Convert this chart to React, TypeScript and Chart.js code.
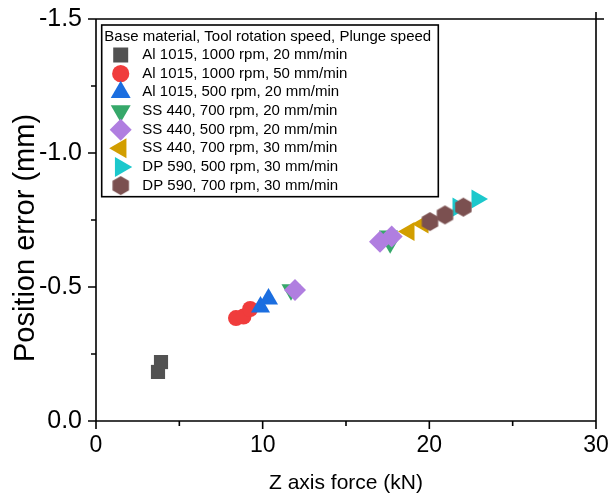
import React, { useEffect, useRef } from 'react';
import { Chart, registerables } from 'chart.js';
import { drawPoint } from 'chart.js/helpers';

Chart.register(...registerables);

const FONT = "'Liberation Sans', Arial, sans-serif";

const legendTitle = 'Base material, Tool rotation speed, Plunge speed';
const seriesLabels = [
  'Al 1015, 1000 rpm, 20 mm/min',
  'Al 1015, 1000 rpm, 50 mm/min',
  'Al 1015, 500 rpm, 20 mm/min',
  'SS 440, 700 rpm, 20 mm/min',
  'SS 440, 500 rpm, 20 mm/min',
  'SS 440, 700 rpm, 30 mm/min',
  'DP 590, 500 rpm, 30 mm/min',
  'DP 590, 700 rpm, 30 mm/min',
];

// Z axis force (kN)
const xAl1000_20 = [3.72, 3.9];
const xAl1000_50 = [8.4, 8.85, 9.25];
const xAl500_20 = [9.87, 10.35];
const xSS700_20 = [11.7, 17.55, 17.65];
const xSS500_20 = [11.94, 17.04, 17.74];
const xSS700_30 = [18.78, 19.62];
const xDP500_30 = [21.72, 22.86];
const xDP700_30 = [20.04, 20.94, 22.04];

// Position error (mm)
const yAl1000_20 = [-0.183, -0.22];
const yAl1000_50 = [-0.384, -0.39, -0.418];
const yAl500_20 = [-0.425, -0.455];
const ySS700_20 = [-0.49, -0.69, -0.665];
const ySS500_20 = [-0.489, -0.669, -0.688];
const ySS700_30 = [-0.707, -0.735];
const yDP500_30 = [-0.798, -0.828];
const yDP700_30 = [-0.744, -0.769, -0.798];

const xValues = [xAl1000_20, xAl1000_50, xAl500_20, xSS700_20, xSS500_20, xSS700_30, xDP500_30, xDP700_30];
const yValues = [yAl1000_20, yAl1000_50, yAl500_20, ySS700_20, ySS500_20, ySS700_30, yDP500_30, yDP700_30];

const colors = ['#525252', '#f03c3c', '#1b6ee0', '#36a86a', '#b07ee0', '#d29e00', '#1cc8cc', '#7b5050'];
const styles = ['rect', 'circle', 'triangle', 'triangle', 'rectRot', 'triangle', 'triangle', 'hex'];
const rotations = [0, 0, 0, 180, 0, 270, 90, 0];
const radii = [10, 8, 11, 11, 11, 11, 11, 9.5];
const legendRadii = [10.6, 8.6, 11.5, 11.5, 11, 11.5, 11.5, 9.5];

const xMajorTicks = [0, 10, 20, 30];
const xMinorTicks = [5, 15, 25];
const yMajorTicks = [0, -0.5, -1.0, -1.5];
const yMinorTicks = [-0.25, -0.75, -1.25];

const xTitle = 'Z axis force (kN)';
const yTitle = 'Position error (mm)';

function makeHexagon(R: number, color: string) {
  const c = document.createElement('canvas');
  const w = Math.ceil(Math.sqrt(3) * R) + 2;
  const h = Math.ceil(2 * R) + 2;
  c.width = w;
  c.height = h;
  const g = c.getContext('2d')!;
  g.fillStyle = color;
  g.beginPath();
  for (let i = 0; i < 6; i++) {
    const a = (Math.PI / 3) * i - Math.PI / 2;
    const px = w / 2 + R * Math.cos(a);
    const py = h / 2 + R * Math.sin(a);
    if (i === 0) g.moveTo(px, py);
    else g.lineTo(px, py);
  }
  g.closePath();
  g.fill();
  return c;
}

function zeroPadding(s: any) {
  s.paddingLeft = 0;
  s.paddingRight = 0;
  s.paddingTop = 0;
  s.paddingBottom = 0;
}

export default function App() {
  const ref = useRef<HTMLCanvasElement | null>(null);

  useEffect(() => {
    if (!ref.current) return;
    const hex = makeHexagon(radii[7], colors[7]);
    const pStyles: any[] = styles.map((s) => (s === 'hex' ? hex : s));

    const datasets = seriesLabels.map((label, i) => ({
      label,
      data: xValues[i].map((x, j) => ({ x, y: yValues[i][j] })),
      pointStyle: pStyles[i],
      rotation: rotations[i],
      pointRadius: radii[i],
      pointHoverRadius: radii[i],
      backgroundColor: colors[i],
      borderColor: colors[i],
      borderWidth: 0,
      showLine: false,
      order: -i,
    }));

    const framePlugin = {
      id: 'frameAndLegend',
      afterDraw(chart: any) {
        const { ctx, chartArea: a, scales } = chart;
        const xs = scales.x;
        const ys = scales.y;
        ctx.save();
        ctx.strokeStyle = '#000';
        ctx.lineWidth = 1.6;
        ctx.beginPath();
        ctx.moveTo(a.left, a.top);
        ctx.lineTo(a.right + 8, a.top);
        ctx.moveTo(a.right, a.top - 7);
        ctx.lineTo(a.right, a.bottom);
        ctx.moveTo(a.left, a.top);
        ctx.lineTo(a.left, a.bottom);
        ctx.lineTo(a.right, a.bottom);
        xMajorTicks.forEach((v) => {
          const px = xs.getPixelForValue(v);
          ctx.moveTo(px, a.bottom);
          ctx.lineTo(px, a.bottom + 8);
        });
        xMinorTicks.forEach((v) => {
          const px = xs.getPixelForValue(v);
          ctx.moveTo(px, a.bottom);
          ctx.lineTo(px, a.bottom + 5);
        });
        yMajorTicks.forEach((v) => {
          const py = ys.getPixelForValue(v);
          ctx.moveTo(a.left, py);
          ctx.lineTo(a.left - 8, py);
        });
        yMinorTicks.forEach((v) => {
          const py = ys.getPixelForValue(v);
          ctx.moveTo(a.left, py);
          ctx.lineTo(a.left - 5, py);
        });
        ctx.stroke();

        // y axis title
        ctx.save();
        ctx.translate(25.5, 238);
        ctx.rotate(-Math.PI / 2);
        ctx.fillStyle = '#000';
        ctx.font = `29px ${FONT}`;
        ctx.textAlign = 'center';
        ctx.textBaseline = 'middle';
        ctx.fillText(yTitle, 0, 0);
        ctx.restore();

        // legend
        const bx = 101.7, by = 25, bw = 336.6, bh = 171.7;
        ctx.fillStyle = '#fff';
        ctx.fillRect(bx, by, bw, bh);
        ctx.lineWidth = 1.6;
        ctx.strokeRect(bx, by, bw, bh);
        ctx.fillStyle = '#000';
        ctx.font = `15px ${FONT}`;
        ctx.textAlign = 'left';
        ctx.textBaseline = 'middle';
        ctx.fillText(legendTitle, 104.3, 37);
        seriesLabels.forEach((lab, i) => {
          const cy = 55 + i * 18.66;
          ctx.fillStyle = colors[i];
          ctx.strokeStyle = colors[i];
          drawPoint(ctx, { pointStyle: pStyles[i], rotation: rotations[i], radius: legendRadii[i], borderWidth: 0 } as any, 120.7, cy);
          ctx.fillStyle = '#000';
          ctx.fillText(lab, 142.3, cy);
        });
        ctx.restore();
      },
    };

    const chart = new Chart(ref.current, {
      type: 'scatter',
      data: { datasets: datasets as any },
      options: {
        animation: false,
        responsive: false,
        maintainAspectRatio: false,
        layout: { padding: { top: 19, right: 14, left: 0, bottom: 0 } },
        plugins: { legend: { display: false }, tooltip: { enabled: false } },
        scales: {
          x: {
            type: 'linear',
            min: 0,
            max: 30,
            grid: { display: false },
            border: { display: false },
            ticks: {
              stepSize: 10,
              color: '#000',
              padding: 3,
              font: { family: FONT, size: 23 },
            },
            title: {
              display: true,
              text: xTitle,
              color: '#000',
              font: { family: FONT, size: 21, lineHeight: 1 },
              padding: { top: 0, bottom: 3.5 },
            },
            afterFit: (s: any) => {
              s.height = 76;
              zeroPadding(s);
            },
          },
          y: {
            type: 'linear',
            min: -1.5,
            max: 0,
            reverse: true,
            grid: { display: false },
            border: { display: false },
            ticks: {
              stepSize: 0.5,
              color: '#000',
              padding: 6,
              font: { family: FONT, size: 25 },
              callback: (v: any) => Number(v).toFixed(1),
            },
            afterFit: (s: any) => {
              s.width = 96;
              zeroPadding(s);
            },
          },
        },
      },
      plugins: [framePlugin],
    });
    return () => chart.destroy();
  }, []);

  return (
    <div style={{ position: 'fixed', left: 0, top: 0, width: 610, height: 497 }}>
      <canvas ref={ref} width={610} height={497} style={{ display: 'block' }} />
    </div>
  );
}
